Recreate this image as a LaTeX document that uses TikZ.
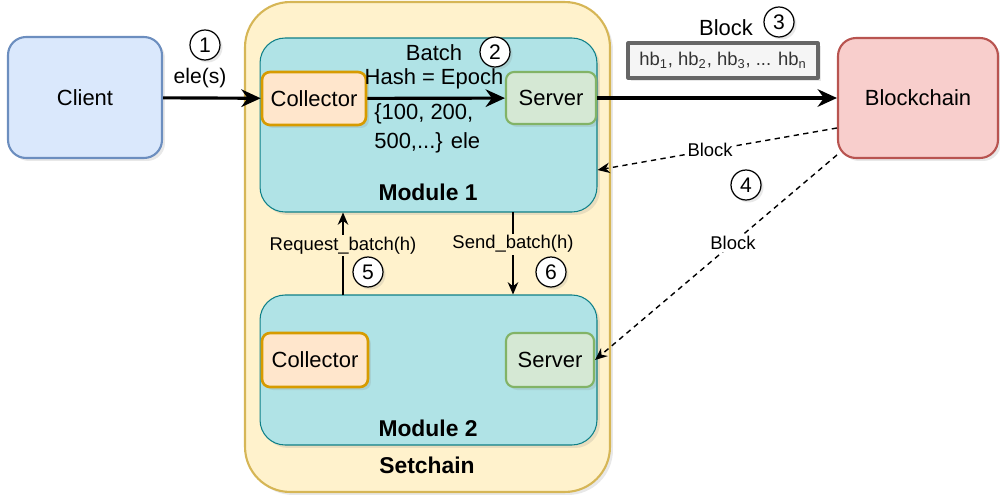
\documentclass[tikz,border=0pt]{standalone}
\usepackage{fontspec}
\setmainfont{Liberation Sans}
\usetikzlibrary{arrows.meta,shadows}

\definecolor{Clfill}{HTML}{DAE8FC}\definecolor{Clline}{HTML}{6C8EBF}
\definecolor{Scfill}{HTML}{FFF2CC}\definecolor{Scline}{HTML}{D6B656}
\definecolor{Mdfill}{HTML}{B0E3E6}\definecolor{Mdline}{HTML}{0E8088}
\definecolor{Cofill}{HTML}{FFE6CC}\definecolor{Coline}{HTML}{D79B00}
\definecolor{Svfill}{HTML}{D5E8D4}\definecolor{Svline}{HTML}{82B366}
\definecolor{Bcfill}{HTML}{F8CECC}\definecolor{Bcline}{HTML}{B85450}
\definecolor{Hbfill}{HTML}{F5F5F5}\definecolor{Hbline}{HTML}{666666}

\tikzset{
  box/.style={draw,rectangle,inner sep=0pt,align=center,
    font=\fontsize{12.5}{14}\selectfont,
    drop shadow={opacity=0.18,shadow xshift=0.06cm,shadow yshift=-0.06cm}},
  numc/.style={circle,draw,fill=white,line width=0.7pt,minimum size=0.6cm,
    inner sep=0pt,font=\fontsize{12}{14}\selectfont,
    drop shadow={opacity=0.18,shadow xshift=0.05cm,shadow yshift=-0.05cm}},
  boldlbl/.style={font=\bfseries\fontsize{13}{15}\selectfont},
  tag/.style={font=\fontsize{10.5}{12}\selectfont,inner sep=1pt},
  flow/.style={line width=1.8pt,-{Stealth[length=11pt,width=10pt]}},
  slimflow/.style={line width=0.8pt,-{Stealth[length=7pt,width=6pt]}},
  dashflow/.style={line width=0.8pt,dash pattern=on 3pt off 2.5pt,-{Stealth[length=7pt,width=6pt]}}
}
\newcommand{\hbn}[1]{hb\textsubscript{#1}}

\begin{document}
\begin{tikzpicture}[x=0.02cm,y=-0.02cm,line join=round]
\path[use as bounding box] (0,0) rectangle (1000,497);

% containers
\node[box,fill=Scfill,draw=Scline,line width=1.2pt,rounded corners=0.9cm,
  minimum width=7.3cm,minimum height=9.8cm] (setchain) at (427.5,247) {};
\node[box,fill=Mdfill,draw=Mdline,line width=0.6pt,rounded corners=0.5cm,
  minimum width=6.74cm,minimum height=3.48cm] (mod1) at (428.5,125) {};
\node[box,fill=Mdfill,draw=Mdline,line width=0.6pt,rounded corners=0.5cm,
  minimum width=6.74cm,minimum height=3.0cm] (mod2) at (428.5,370) {};
\node[boldlbl] (setlbl) at (427,465) {Setchain};
\node[boldlbl] (mod1lbl) at (428,192) {Module 1};
\node[boldlbl] (mod2lbl) at (428,428) {Module 2};

% outer boxes
\node[box,fill=Clfill,draw=Clline,line width=1.2pt,rounded corners=0.36cm,
  minimum width=3.08cm,minimum height=2.42cm] (client) at (85,97.5) {Client};
\node[box,fill=Bcfill,draw=Bcline,line width=1.2pt,rounded corners=0.36cm,
  minimum width=3.2cm,minimum height=2.4cm] (chain) at (918,98) {Blockchain};
\node[box,fill=Hbfill,draw=Hbline,line width=1.8pt,text=black!80,
  minimum width=3.8cm,minimum height=0.7cm,font=\fontsize{10.5}{12}\selectfont]
  (hbs) at (723,60.5) {\hbn{1}, \hbn{2}, \hbn{3}, ... \hbn{n}};

% module parts
\node[box,fill=Cofill,draw=Coline,line width=1.5pt,rounded corners=0.16cm,
  minimum width=2.08cm,minimum height=1.06cm] (col1) at (314,98.5) {Collector};
\node[box,fill=Svfill,draw=Svline,line width=1.2pt,rounded corners=0.16cm,
  minimum width=1.8cm,minimum height=1.04cm] (srv1) at (551,98) {Server};
\node[box,fill=Cofill,draw=Coline,line width=1.5pt,rounded corners=0.16cm,
  minimum width=2.12cm,minimum height=1.08cm] (col2) at (315,360) {Collector};
\node[box,fill=Svfill,draw=Svline,line width=1.2pt,rounded corners=0.16cm,
  minimum width=1.76cm,minimum height=1.08cm] (srv2) at (550,360) {Server};

% batches between the modules
\coordinate (rq) at (343,295);
\coordinate (sd) at (513,212);
\draw[slimflow] (rq) -- node[tag,fill=Scfill,pos=0.6] (rqlbl) {Request\_batch(h)} (rq |- mod1.south);
\draw[slimflow] (sd) -- node[tag,fill=Scfill,pos=0.39] (sdlbl) {Send\_batch(h)} (sd |- mod2.north);

% main flow
\draw[flow] (client) -- (col1);
\draw[flow] (col1) -- (srv1);
\draw[flow] (srv1) -- (chain);
\node[tag,fill=white,font=\fontsize{12}{14}\selectfont] (eles) at (200,78) {ele(s)};
\node[align=center,inner sep=0pt,font=\fontsize{12.5}{14}\selectfont] (batch) at (434,67) {Batch\\Hash = Epoch};
\node[align=left,anchor=west,inner sep=0pt,font=\fontsize{12.5}{16.5}\selectfont] (elems) at (374,128) {\{100, 200,\\500,...\} ele};
\node[font=\fontsize{12.5}{14}\selectfont] (blocklbl) at (726,28) {Block};

% blocks back from the chain
\draw[dashflow] ([yshift=-0.6cm]chain.west) -- node[tag,fill=white,pos=0.53] (blk1) {Block} ([yshift=-0.9cm]mod1.east);
\draw[dashflow] ([yshift=-1.14cm]chain.west) -- node[tag,fill=white,pos=0.43] (blk2) {Block} (srv2.east);

% step numbers
\node[numc] (n1) at (205,45) {1};
\node[numc] (n2) at (495,52) {2};
\node[numc] (n3) at (779,22) {3};
\node[numc] (n4) at (746,185) {4};
\node[numc] (n5) at (368,272) {5};
\node[numc] (n6) at (551,272) {6};
\end{tikzpicture}
\end{document}
